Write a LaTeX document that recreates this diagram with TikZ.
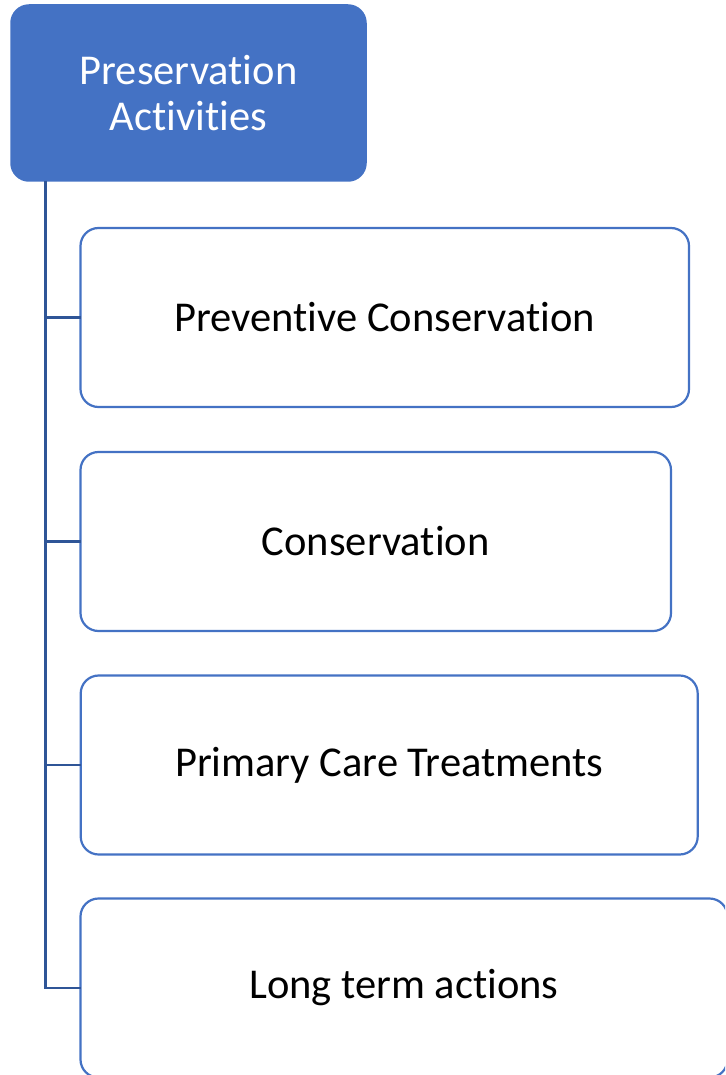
\documentclass[tikz,border=0pt]{standalone}
\usepackage{fontspec}
\setmainfont[Ligatures={NoCommon,NoRare,NoContextual},RawFeature={-liga;-clig;-dlig;-calt}]{Carlito}
\definecolor{accent}{HTML}{4472C4}
\definecolor{conn}{HTML}{2F5597}
\begin{document}
\begin{tikzpicture}[x=1pt,y=-1pt,
  rootbox/.style={draw=accent, fill=accent, line width=1.5pt, rounded corners=18pt,
    minimum width=355pt, minimum height=176pt, inner sep=0pt, outer sep=0pt,
    text=white, align=center, font=\fontsize{42.5}{46}\selectfont},
  childbox/.style={draw=accent, fill=white, line width=2.2pt, rounded corners=18pt,
    minimum height=179pt, inner sep=0pt, outer sep=0pt,
    text=black, font=\fontsize{42.5}{47}\selectfont},
  link/.style={draw=conn, line width=2.2pt}]
\useasboundingbox (0,0) rectangle (725,1075);
\clip (0,0) rectangle (725,1075);
\node[rootbox] (root) at (188.5,93) {Preservation\\Activities};
\node[childbox, minimum width=608.5pt] (c1) at (384.75,317.5) {Preventive Conservation};
\node[childbox, minimum width=590.5pt] (c2) at (375.75,541.5) {Conservation};
\node[childbox, minimum width=617pt] (c3) at (389.2,765) {Primary Care Treatments};
\node[childbox, minimum width=647pt] (c4) at (404,988) {Long term actions};
\coordinate (trunk) at (45.5,181);
\draw[link] (trunk) |- (c4.west);
\draw[link] (trunk |- c1.west) -- (c1.west);
\draw[link] (trunk |- c2.west) -- (c2.west);
\draw[link] (trunk |- c3.west) -- (c3.west);
\end{tikzpicture}
\end{document}
